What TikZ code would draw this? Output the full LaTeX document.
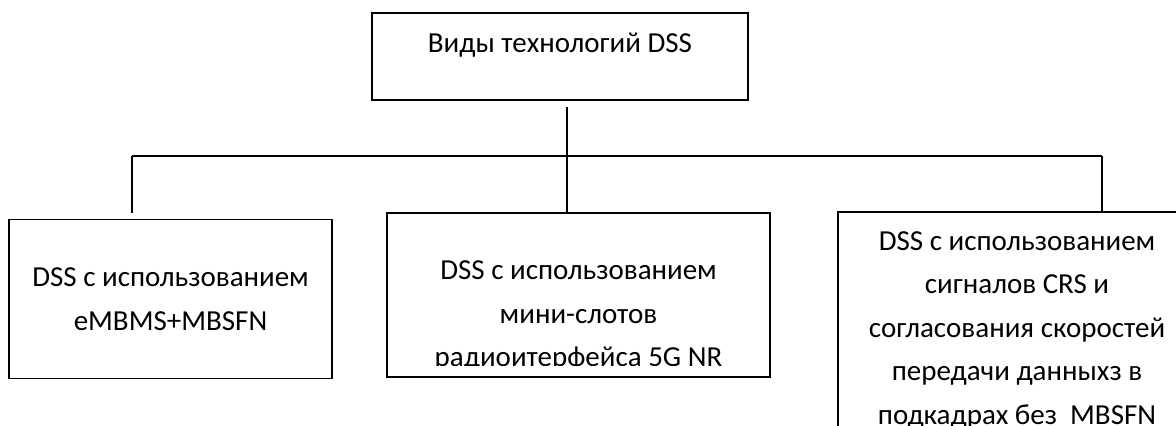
\documentclass[tikz,border=0pt]{standalone}
\usepackage{fontspec}
\setmainfont{Carlito}
\usetikzlibrary{positioning}
\begin{document}
\begin{tikzpicture}[x=0.5pt,y=-0.5pt,box/.style={draw,line width=0.9pt,align=center,inner sep=0pt,font=\fontsize{14.5}{21.75}\selectfont},txt/.style={align=center,inner sep=0pt,font=\fontsize{14.5}{21.75}\selectfont}]
\useasboundingbox (0,0) rectangle (1176,425);
\clip (0,0) rectangle (1176,425);
\node[box,minimum width=188pt,minimum height=43.5pt,text height=9.5pt,text depth=14pt](top) at (560,56.5){Виды технологий DSS};
\node[box,minimum width=161.5pt,minimum height=79.5pt](left) at (170.5,299){DSS с использованием\\eMBMS+MBSFN};
\node[box,minimum width=191.5pt,minimum height=82pt](mid) at (578.5,295){};
\begin{scope}
\clip (mid.north west) rectangle ([yshift=6pt]mid.south east);
\node[txt](midtxt) at (578.5,316){DSS с использованием\\мини-слотов\\радиоитерфейса 5G NR};
\end{scope}
\node[box,minimum width=179pt,minimum height=118pt](right) at (1017,330){DSS с использованием\\сигналов CRS и\\согласования скоростей\\передачи данныхз в\\подкадрах без\ \ MBSFN};
\coordinate (bl) at (132,156);
\coordinate (br) at (1102,156);
\coordinate (j) at (567,156);
\draw[line width=0.9pt] (bl) -- (br);
\draw[line width=0.9pt,shorten <=3pt] (top.south -| j) -- (mid.north -| j);
\draw[line width=0.9pt,shorten >=3pt] (bl) -- (bl |- left.north);
\draw[line width=0.9pt] (br) -- (br |- right.north);
\end{tikzpicture}
\end{document}
